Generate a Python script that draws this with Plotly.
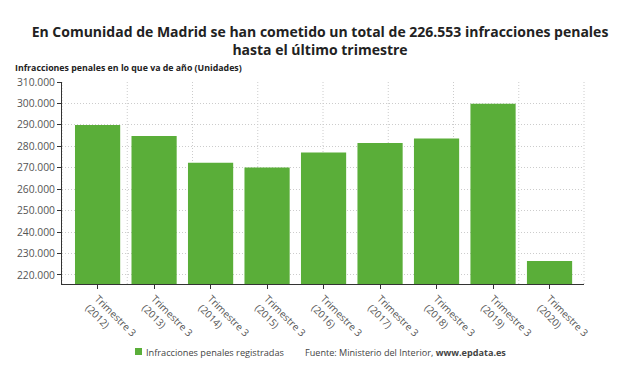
import plotly.graph_objects as go

categories = ["Trimestre 3<br>(2012)", "Trimestre 3<br>(2013)", "Trimestre 3<br>(2014)",
              "Trimestre 3<br>(2015)", "Trimestre 3<br>(2016)", "Trimestre 3<br>(2017)",
              "Trimestre 3<br>(2018)", "Trimestre 3<br>(2019)", "Trimestre 3<br>(2020)"]
values = [289900, 284800, 272300, 270100, 277100, 281600, 283600, 299800, 226553]
y_ticks = [220000, 230000, 240000, 250000, 260000, 270000, 280000, 290000, 300000, 310000]

GREEN = "#5aae39"
GRID = "#cccccc"
DOT = "1px,2px"
FONT = "Open Sans"

fig = go.Figure()
fig.add_trace(go.Bar(x=list(range(len(categories))), y=values, marker=dict(color=GREEN, line=dict(width=0)),
                     width=0.8, name="Infracciones penales registradas", showlegend=False))

L, R, T, B = 62, 56, 82, 92
W, H = 640, 376

shapes = []
for i in range(9):
    shapes.append(dict(type="line", xref="paper", yref="paper", x0=i / 8, x1=i / 8, y0=0, y1=1,
                       line=dict(color=GRID, width=1, dash=DOT), layer="below"))
pw, ph = W - L - R, H - T - B
def px(xp):
    return (xp - L) / pw
def py(yp):
    return (H - B - yp) / ph
shapes.append(dict(type="rect", xref="paper", yref="paper", x0=px(135), x1=px(142), y0=py(355), y1=py(348),
                   fillcolor=GREEN, line=dict(width=0)))

annotations = [
    dict(text="<b>Infracciones penales en lo que va de año (Unidades)</b>", xref="paper", yref="paper",
         x=px(13), y=py(68), xanchor="left", yanchor="middle", showarrow=False,
         font=dict(family=FONT, size=8.8, color="#222"), ),
    dict(text="Infracciones penales registradas", xref="paper", yref="paper",
         x=px(144), y=py(352), xanchor="left", yanchor="middle", showarrow=False,
         font=dict(family=FONT, size=9.2, color="#444")),
    dict(text="Fuente: Ministerio del Interior, <b>www.epdata.es</b>", xref="paper", yref="paper",
         x=px(303), y=py(352), xanchor="left", yanchor="middle", showarrow=False,
         font=dict(family=FONT, size=9.1, color="#444")),
]

fig.update_layout(
    width=W, height=H,
    margin=dict(l=L, r=R, t=T, b=B, autoexpand=False),
    paper_bgcolor="white", plot_bgcolor="white",
    separators=",.",
    title=dict(text="<b>En Comunidad de Madrid se han cometido un total de 226.553 infracciones penales<br>hasta el último trimestre</b>",
               x=0.5, xanchor="center", y=1 - 37 / H, yanchor="middle",
               font=dict(family=FONT, size=14, color="#222")),
    xaxis=dict(tickmode="array", tickvals=list(range(len(categories))), ticktext=categories,
               range=[-0.63, 8.61], tickangle=45, showgrid=False, showline=True, linecolor="#333",
               linewidth=1, ticks="outside", ticklen=4, tickcolor="#333",
               tickfont=dict(family=FONT, size=10, color="#555"), zeroline=False),
    yaxis=dict(range=[215800, 310000], tickvals=y_ticks, tickformat=",.0f", showgrid=True,
               gridcolor=GRID, griddash=DOT, gridwidth=1, showline=True, linecolor="#333",
               linewidth=1, ticks="outside", ticklen=4, tickcolor="#333",
               tickfont=dict(family=FONT, size=10.3, color="#555"), zeroline=False),
    shapes=shapes, annotations=annotations,
)

fig.write_html("out.html", config={"displayModeBar": False},
               post_script="document.body.style.margin='0';document.body.style.padding='0';")
